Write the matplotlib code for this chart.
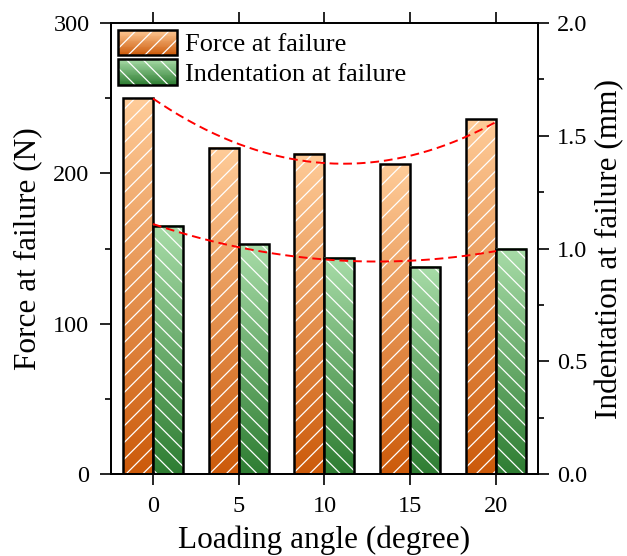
import numpy as np
import matplotlib
matplotlib.use("Agg")
import matplotlib.pyplot as plt
from matplotlib.patches import Rectangle
from matplotlib.legend_handler import HandlerBase
from matplotlib.colors import to_rgb

plt.rcParams['font.family'] = ['Liberation Serif', 'DejaVu Serif']
plt.rcParams['mathtext.fontset'] = 'stix'

# ---- data ----
angles = [0, 5, 10, 15, 20]
force = [250, 217, 213, 206, 236]            # N
indentation = [1.10, 1.02, 0.96, 0.92, 1.00]  # mm
series_names = ["Force at failure", "Indentation at failure"]

# ---- style ----
orange_top, orange_bot = "#FFCC99", "#CC5A0A"
green_top, green_bot = "#A8DCA8", "#2E7D32"
bar_w = 0.35

fig = plt.figure(figsize=(6.27, 5.56), dpi=100)
ax = fig.add_axes([0.177, 0.1475, 0.681, 0.8111])
ax2 = ax.twinx()

x = np.arange(len(angles))


def grad_img(c_top, c_bot, n=256):
    t = np.linspace(0, 1, n)[:, None]
    a, b = np.array(to_rgb(c_top)), np.array(to_rgb(c_bot))
    return (a[None, None, :] * (1 - t[:, :, None]) + b[None, None, :] * t[:, :, None])


def grad_bars(axis, xs, vals, c_top, c_bot, hatch):
    img = grad_img(c_top, c_bot)
    for xi, v in zip(xs, vals):
        axis.imshow(img, extent=[xi - bar_w / 2, xi + bar_w / 2, 0, v],
                    aspect='auto', origin='upper', zorder=1, interpolation='bilinear')
    axis.bar(xs, vals, width=bar_w, facecolor='none', edgecolor='white',
             linewidth=0, hatch=hatch, zorder=2)
    axis.bar(xs, vals, width=bar_w, facecolor='none', edgecolor='black',
             linewidth=1.8, zorder=3)


plt.rcParams['hatch.linewidth'] = 0.9
grad_bars(ax, x - bar_w / 2, force, orange_top, orange_bot, '//')
grad_bars(ax2, x + bar_w / 2, indentation, green_top, green_bot, '\\\\')

# quadratic fits
xf = np.linspace(0, 4, 200)
pf = np.polyfit(x, force, 2)
pi = np.polyfit(x, indentation, 2)
ax.plot(xf, np.polyval(pf, xf), color='red', ls=(0, (4.5, 2.5)), lw=1.4, zorder=4)
ax2.plot(xf, np.polyval(pi, xf), color='red', ls=(0, (4.5, 2.5)), lw=1.4, zorder=4)

ax.set_xlim(-0.49, 4.49)
ax.set_ylim(0, 300)
ax2.set_ylim(0, 2.0)
ax.set_xticks(x)
ax.set_xticklabels([str(a) for a in angles])
ax.set_yticks([0, 100, 200, 300])
ax.set_yticks([50, 150, 250], minor=True)
ax2.set_yticks([0, 0.5, 1.0, 1.5, 2.0])
ax2.set_yticklabels(['0.0', '0.5', '1.0', '1.5', '2.0'])
ax2.set_yticks([0.25, 0.75, 1.25, 1.75], minor=True)

for a in (ax, ax2):
    for s in a.spines.values():
        s.set_linewidth(1.3)
ax.tick_params(axis='both', which='major', direction='out', length=8, width=1.2, labelsize=17.5)
ax.tick_params(axis='y', which='major', pad=7.5)
ax.tick_params(axis='y', which='minor', direction='out', length=4.5, width=1.2)
ax.tick_params(axis='x', top=True, pad=8)
ax2.tick_params(axis='y', which='major', direction='out', length=8, width=1.2, labelsize=17.5, pad=5.8)
ax2.tick_params(axis='y', which='minor', direction='out', length=4.5, width=1.2)

ax.set_xlabel("Loading angle (degree)", fontsize=22.5, labelpad=6)
ax.set_ylabel("Force at failure (N)", fontsize=22.5, labelpad=8)
ax2.set_ylabel("Indentation at failure (mm)", fontsize=22.5, labelpad=5)


class GradHandler(HandlerBase):
    def __init__(self, c_top, c_bot, hatch):
        super().__init__()
        self.c_top, self.c_bot, self.hatch = np.array(to_rgb(c_top)), np.array(to_rgb(c_bot)), hatch

    def create_artists(self, legend, orig_handle, xdescent, ydescent, width, height, fontsize, trans):
        arts = []
        n = 30
        x0, y0 = -xdescent, -ydescent
        for i in range(n):
            t = (i + 0.5) / n
            col = self.c_bot * (1 - t) + self.c_top * t
            arts.append(Rectangle((x0, y0 + i * height / n), width, height / n * 1.05,
                                  facecolor=col, edgecolor='none', lw=0, transform=trans))
        arts.append(Rectangle((x0, y0), width, height, facecolor='none', edgecolor='white',
                              lw=0, hatch=self.hatch, transform=trans))
        arts.append(Rectangle((x0, y0), width, height, facecolor='none', edgecolor='black',
                              lw=1.8, transform=trans))
        return arts


h1 = Rectangle((0, 0), 1, 1)
h2 = Rectangle((0, 0), 1, 1)
ax2.legend([h1, h2], series_names, loc='upper left', frameon=False, fontsize=19,
           handler_map={h1: GradHandler(orange_top, orange_bot, '//'),
                        h2: GradHandler(green_top, green_bot, '\\\\')},
           handlelength=2.27, handleheight=1.1, handletextpad=0.27, labelspacing=0.12,
           borderpad=0.1, borderaxespad=0.15)

fig.savefig("out.png", dpi=100)
